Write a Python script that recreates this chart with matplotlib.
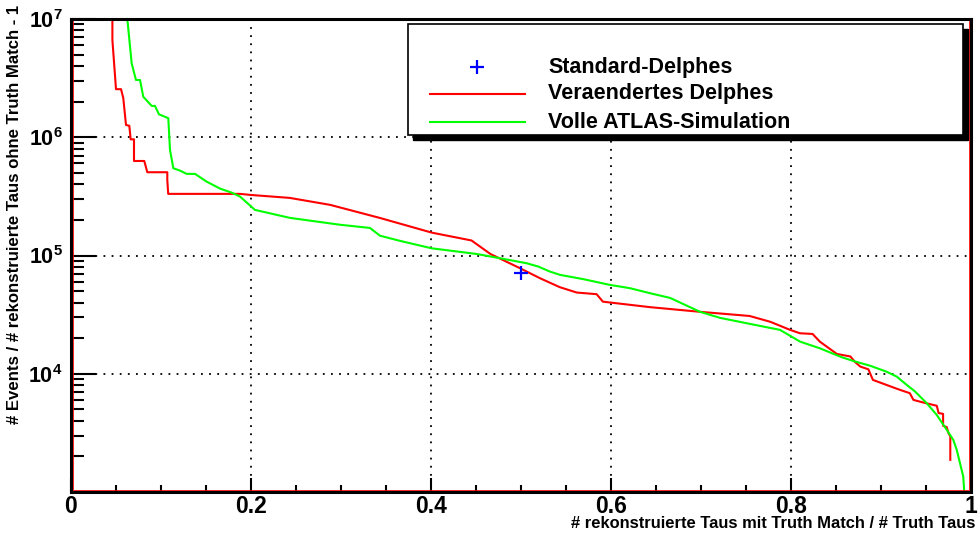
import matplotlib
matplotlib.use('Agg')
import matplotlib.pyplot as plt
from matplotlib.patches import Rectangle
from matplotlib.lines import Line2D
import numpy as np

plt.rcParams['font.family'] = ['Liberation Sans', 'DejaVu Sans']
plt.rcParams['font.weight'] = 'bold'
plt.rcParams['mathtext.fontset'] = 'custom'
plt.rcParams['mathtext.rm'] = 'Liberation Sans:bold'
plt.rcParams['mathtext.bf'] = 'Liberation Sans:bold'

# Veraendertes Delphes
red_x = [0.046, 0.046, 0.050, 0.0556, 0.0581, 0.0611, 0.0648, 0.0663, 0.070, 0.070,
         0.0814, 0.0848, 0.107, 0.107, 0.108, 0.188, 0.200, 0.243, 0.288, 0.343,
         0.401, 0.445, 0.466, 0.499, 0.521, 0.543, 0.562, 0.584, 0.591, 0.643,
         0.699, 0.754, 0.777, 0.799, 0.810, 0.824, 0.832, 0.851, 0.866, 0.871,
         0.877, 0.886, 0.891, 0.906, 0.921, 0.932, 0.936, 0.947, 0.962, 0.964,
         0.969, 0.969, 0.973, 0.975, 0.977, 0.977]
red_y = [1.0e7, 6.64e6, 2.55e6, 2.55e6, 2.14e6, 1.27e6, 1.25e6, 9.6e5, 9.6e5, 6.3e5,
         6.3e5, 5.06e5, 5.06e5, 4.36e5, 3.32e5, 3.32e5, 3.25e5, 3.07e5, 2.68e5, 2.08e5,
         1.56e5, 1.34e5, 1.03e5, 7.8e4, 6.43e4, 5.4e4, 4.86e4, 4.71e4, 4.07e4, 3.66e4,
         3.34e4, 3.08e4, 2.75e4, 2.35e4, 2.2e4, 2.17e4, 1.87e4, 1.47e4, 1.40e4, 1.26e4,
         1.15e4, 1.09e4, 8.87e3, 8.05e3, 7.31e3, 6.85e3, 6.01e3, 5.71e3, 5.36e3, 4.65e3,
         4.58e3, 3.63e3, 3.54e3, 3.15e3, 2.95e3, 1.87e3]

# Volle ATLAS-Simulation
green_x = [0.0626, 0.0674, 0.0722, 0.0767, 0.0803, 0.0897, 0.0933, 0.0978, 0.1026, 0.1081,
           0.110, 0.1137, 0.1211, 0.1286, 0.1378, 0.1508, 0.1656, 0.1786, 0.1878, 0.2044,
           0.2433, 0.2989, 0.3322, 0.3433, 0.3656, 0.4008, 0.4508, 0.4767, 0.5063, 0.5192,
           0.5322, 0.5433, 0.5692, 0.5989, 0.6211, 0.6433, 0.6656, 0.6989, 0.7211, 0.7544,
           0.7878, 0.810, 0.8322, 0.8563, 0.8711, 0.8878, 0.9063, 0.9174, 0.9286, 0.9378,
           0.9508, 0.9619, 0.973, 0.9803, 0.9841, 0.9878, 0.9914, 0.9926]
green_y = [1.0e7, 4.22e6, 3.05e6, 3.05e6, 2.2e6, 1.84e6, 1.84e6, 1.56e6, 1.51e6, 1.45e6,
           7.81e5, 5.47e5, 5.22e5, 4.9e5, 4.9e5, 4.21e5, 3.68e5, 3.4e5, 3.15e5, 2.43e5,
           2.08e5, 1.82e5, 1.71e5, 1.47e5, 1.33e5, 1.15e5, 1.03e5, 9.48e4, 8.6e4, 8.06e4,
           7.31e4, 6.86e4, 6.31e4, 5.64e4, 5.29e4, 4.8e4, 4.38e4, 3.34e4, 2.97e4, 2.64e4,
           2.35e4, 1.87e4, 1.64e4, 1.38e4, 1.27e4, 1.17e4, 1.04e4, 9.47e3, 8.05e3, 7.08e3,
           5.64e3, 4.49e3, 3.36e3, 2.76e3, 2.28e3, 1.75e3, 1.35e3, 9.8e2]

# Standard-Delphes
std_x = [0.5]
std_y = [7.05e4]

labels = ['Standard-Delphes', 'Veraendertes Delphes', 'Volle ATLAS-Simulation']
xlabel = '# rekonstruierte Taus mit Truth Match / # Truth Taus'
ylabel = '# Events / # rekonstruierte Taus ohne Truth Match - 1'

fig = plt.figure(figsize=(9.79, 5.36), dpi=100)
ax = fig.add_axes([71/979, 1 - 492/536, 900/979, 473/536])
ax.set_yscale('log')
ax.set_xlim(0, 1)
ax.set_ylim(1.0e3, 1.0e7)

# dotted grid at the major ticks
for gx in [0.2, 0.4, 0.6, 0.8]:
    ax.axvline(gx, color='black', lw=1.3, ls=(0, (1, 3.5)), zorder=1)
for gy in [1e4, 1e5, 1e6]:
    ax.axhline(gy, color='black', lw=1.3, ls=(0, (1, 3.5)), zorder=1)

ax.plot(red_x, red_y, color='#ff0000', lw=1.5, zorder=3)
ax.plot(green_x, green_y, color='#00ff00', lw=1.5, zorder=3)
ax.plot(std_x, std_y, ls='none', marker='+', color='#0000ff', ms=10, mew=1.6, zorder=4)

# thin red outline just inside the frame
dx, dy = 1.8 / 900, 1.8 / 473
ax.plot([dx, dx, 1 - dx, 1 - dx], [1 - dy, dy, dy, 1 - dy], transform=ax.transAxes,
        color='#ff0000', lw=0.6, clip_on=False, zorder=5)

for s in ax.spines.values():
    s.set_linewidth(2.2)
    s.set_zorder(6)

ax.set_xticks([0, 0.2, 0.4, 0.6, 0.8, 1.0])
ax.set_xticklabels(['0', '0.2', '0.4', '0.6', '0.8', '1'])
ax.set_xticks(np.arange(0, 1.0001, 0.05), minor=True)
ax.set_yticks([1e4, 1e5, 1e6, 1e7])
ax.set_yticklabels([r'$\mathbf{10^{4}}$', r'$\mathbf{10^{5}}$', r'$\mathbf{10^{6}}$',
                    r'$\mathbf{10^{7}}$'])
minors = [m * 10 ** e for e in range(3, 7) for m in range(2, 10)]
ax.set_yticks(minors, minor=True)
ax.yaxis.set_minor_formatter(matplotlib.ticker.NullFormatter())
ax.tick_params(axis='x', which='major', direction='in', length=10, width=1.5,
               labelsize=16.5, pad=2.5)
ax.tick_params(axis='x', which='minor', direction='in', length=5, width=1.5)
ax.tick_params(axis='y', which='major', direction='in', length=18, width=1.5,
               labelsize=15.5, pad=6)
ax.tick_params(axis='y', which='minor', direction='in', length=9, width=1.5)
for t in ax.get_xticklabels() + ax.get_yticklabels():
    t.set_fontweight('bold')

fig.text(975 / 979, 1 - 524 / 536, xlabel, ha='right', va='center', fontsize=11.9,
         fontweight='bold')
fig.text(15 / 979, 1 - 5 / 536, ylabel, ha='center', va='top', rotation=90,
         fontsize=12.1, fontweight='bold')

# legend box with a solid shadow
lx0, lx1 = (408 - 71) / 900, (963 - 71) / 900
ly0, ly1 = (492 - 135) / 473, (492 - 24) / 473
sdx, sdy = 5 / 900, 5 / 473
ax.add_patch(Rectangle((lx0 + sdx, ly0 - sdy), lx1 - lx0, ly1 - ly0, transform=ax.transAxes,
                       facecolor='black', edgecolor='black', lw=1, zorder=7, clip_on=False))
ax.add_patch(Rectangle((lx0, ly0), lx1 - lx0, ly1 - ly0, transform=ax.transAxes,
                       facecolor='white', edgecolor='black', lw=1.2, zorder=8, clip_on=False))
rows = [(492 - 67) / 473, (492 - 94) / 473, (492 - 122) / 473]
hx0, hx1 = (430 - 71) / 900, (525 - 71) / 900
tx = (548 - 71) / 900
ax.add_line(Line2D([(hx0 + hx1) / 2], [rows[0]], transform=ax.transAxes, ls='none',
                   marker='+', color='#0000ff', ms=10, mew=1.6, zorder=9))
ax.add_line(Line2D([hx0, hx1], [rows[1], rows[1]], transform=ax.transAxes,
                   color='#ff0000', lw=1.5, zorder=9))
ax.add_line(Line2D([hx0, hx1], [rows[2], rows[2]], transform=ax.transAxes,
                   color='#00ff00', lw=1.5, zorder=9))
for r, lab in zip(rows, labels):
    ax.text(tx, r, lab, transform=ax.transAxes, ha='left', va='center', fontsize=15.5,
            fontweight='bold', zorder=9)

fig.savefig('out.png', dpi=100)
